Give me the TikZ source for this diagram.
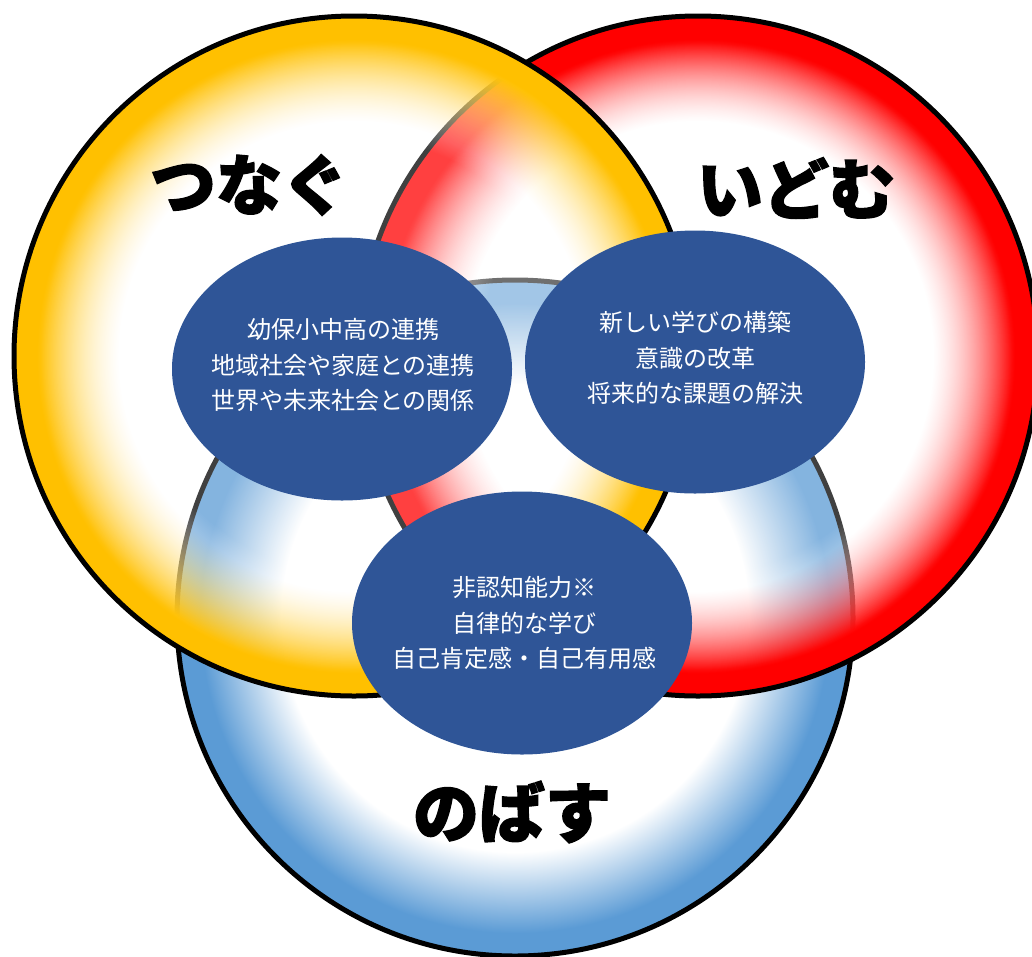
\documentclass[tikz,border=0pt]{standalone}
\usepackage{fontspec}
\setmainfont{Noto Sans CJK JP}[BoldFeatures={FakeBold=2}]
\usetikzlibrary{shapes.geometric,fadings}
\definecolor{yelc}{HTML}{FFC000}
\definecolor{redc}{HTML}{FF0000}
\definecolor{bluc}{HTML}{5B9BD5}
\definecolor{navyc}{HTML}{2F5597}
\colorlet{clearc}{black}
\pgfdeclareradialshading{yelshade}{\pgfpointorigin}{color(0bp)=(white); color(17.3bp)=(white); color(23.3bp)=(yelc); color(25bp)=(yelc); color(50bp)=(yelc)}
\pgfdeclareradialshading{redshade}{\pgfpointorigin}{color(0bp)=(white); color(17.3bp)=(white); color(23.3bp)=(redc); color(25bp)=(redc); color(50bp)=(redc)}
\pgfdeclareradialshading{blushade}{\pgfpointorigin}{color(0bp)=(white); color(17.3bp)=(white); color(23.3bp)=(bluc); color(25bp)=(bluc); color(50bp)=(bluc)}
\pgfdeclareradialshading{fadeshade}{\pgfpointorigin}{color(0bp)=(clearc!75); color(16bp)=(clearc!75); color(23bp)=(clearc!0); color(25bp)=(clearc!0); color(50bp)=(clearc!0)}
\pgfdeclarefading{ringfade}{\pgfuseshading{fadeshade}}
\tikzset{
  ring/.style={line width=5pt, draw=black},
  inner/.style={ellipse, fill=navyc, draw=none, minimum width=340pt, minimum height=263pt, inner sep=0pt},
  txt/.style={text=white, align=center, inner sep=0pt, font=\fontsize{24}{35.5}\selectfont},
  big/.style={font=\fontsize{66}{66}\selectfont\bfseries, text=black, inner sep=0pt}
}
\begin{document}
\begin{tikzpicture}[x=1pt,y=-1pt]
\useasboundingbox (0,0) rectangle (1032,956);
\fill[white] (0,0) rectangle (1032,956);
\coordinate (cb) at (515,618);
\coordinate (cr) at (698,356);
\coordinate (cy) at (354,356);
% blue (bottom layer)
\shade[shading=blushade] (cb) circle[radius=338pt];
\draw[ring] (cb) circle[radius=338pt];
% red
\shade[shading=redshade, path fading=ringfade] (cr) circle[radius=340pt];
\draw[ring] (cr) circle[radius=340pt];
% yellow (top layer)
\shade[shading=yelshade, path fading=ringfade] (cy) circle[radius=340pt];
\draw[ring] (cy) circle[radius=340pt];
% inner ellipses
\node[inner] (e1) at (342,369) {};
\node[inner] (e2) at (695,362) {};
\node[inner] (e3) at (522,623) {};
\node[txt] (l1) at (343,365) {幼保小中高の連携\\地域社会や家庭との連携\\世界や未来社会との関係};
\node[txt] (l2) at (695,358) {新しい学びの構築\\意識の改革\\将来的な課題の解決};
\node[txt] (l3) at (524,623) {非認知能力※\\自律的な学び\\自己肯定感・自己有用感};
% labels
\node[big] (t1) at (249,185) {つなぐ};
\node[big] (t2) at (796,188) {いどむ};
\node[big] (t3) at (512,812) {のばす};
\end{tikzpicture}
\end{document}
